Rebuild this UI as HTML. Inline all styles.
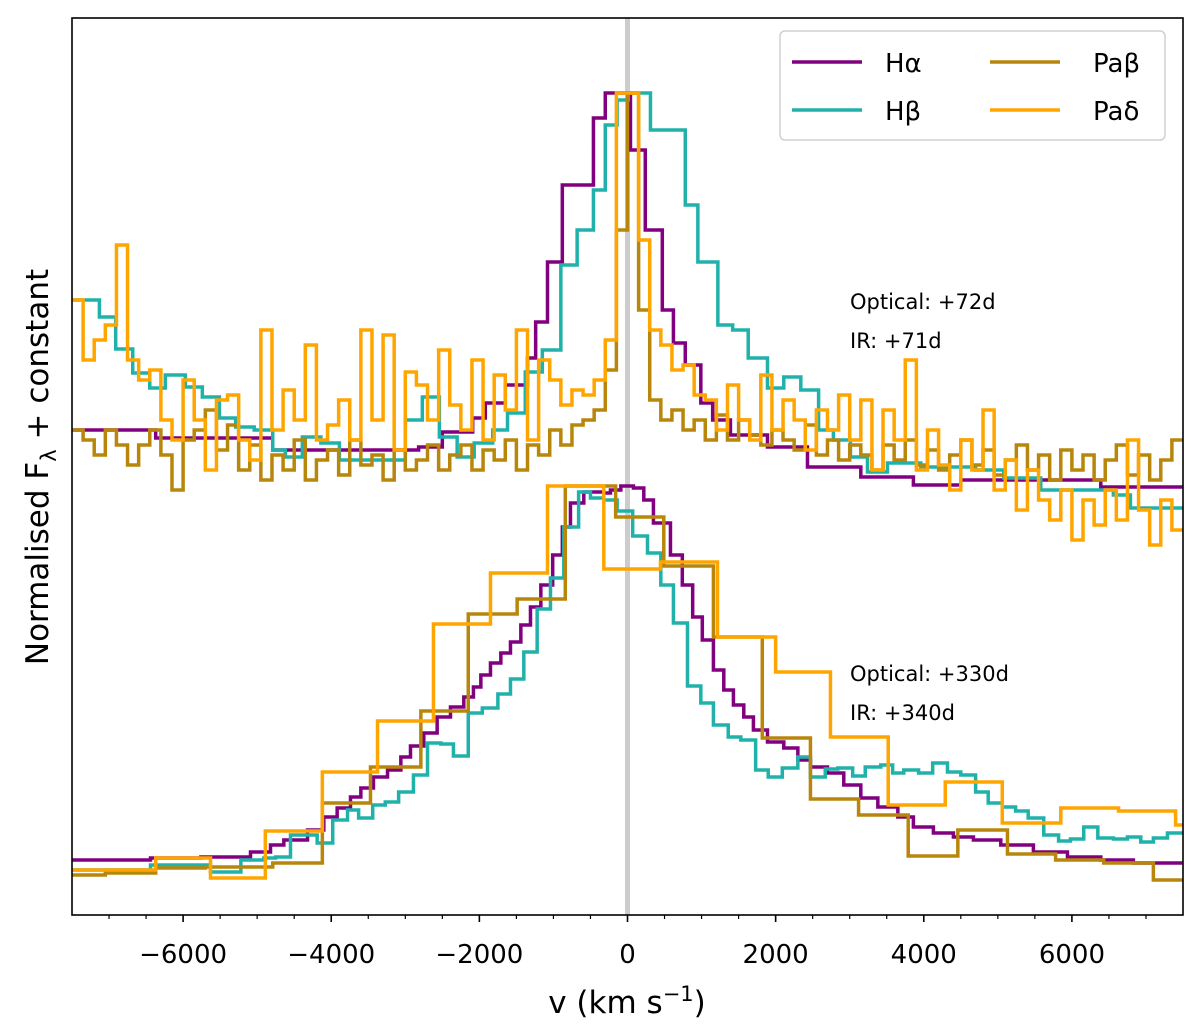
<!DOCTYPE html>
<html><head><meta charset="utf-8"><style>
html,body{margin:0;padding:0;background:#fff}
svg{display:block}
text{font-family:"DejaVu Sans","Liberation Sans",sans-serif}
</style></head><body>
<svg id="chart" width="1200" height="1033" xmlns="http://www.w3.org/2000/svg">
<g id="plot"></g>
</svg>
<script>
// ---- data ----
const xTicks = [-6000,-4000,-2000,0,2000,4000,6000];
const xTickLabels = ["\u22126000","\u22124000","\u22122000","0","2000","4000","6000"];
const binV = [-7500,-7350,-7200,-7050,-6900,-6750,-6600,-6450,-6300,-6150,-6000,-5850,-5700,-5550,-5400,-5250,-5100,-4950,-4800,-4650,-4500,-4350,-4200,-4050,-3900,-3750,-3600,-3450,-3300,-3150,-3000,-2850,-2700,-2550,-2400,-2250,-2100,-1950,-1800,-1650,-1500,-1350,-1200,-1050,-900,-750,-600,-450,-300,-150,0,150,300,450,600,750,900,1050,1200,1350,1500,1650,1800,1950,2100,2250,2400,2550,2700,2850,3000,3150,3300,3450,3600,3750,3900,4050,4200,4350,4500,4650,4800,4950,5100,5250,5400,5550,5700,5850,6000,6150,6300,6450,6600,6750,6900,7050,7200,7350,7500];
// early epoch (+72d / +71d)
const haTopV = [-7500,-6370,-4790,-2820,-2500,-2090,-1920,-1650,-1350,-1240,-1080,-880,-460,-300,40,240,470,620,780,990,1150,1390,1890,2430,3150,3860,4500,6390,7500];
const haTopF = [4.85,4.77,4.65,4.68,4.83,4.97,5.12,5.30,5.57,5.93,6.53,7.30,7.97,8.22,7.65,6.85,6.05,5.72,5.50,5.12,4.95,4.80,4.68,4.48,4.38,4.30,4.35,4.28];
const hbTopV = [-7500,-7130,-6910,-6680,-6450,-6240,-5970,-5740,-5510,-5290,-5040,-4790,-4620,-4390,-4140,-3890,-3000,-2770,-2540,-2300,-2070,-1820,-1620,-1380,-1150,-900,-680,-460,-300,-140,10,310,780,950,1220,1420,1630,1890,2110,2340,2580,2780,3010,3240,3510,3960,4700,5080,5580,6560,6790,7500];
const hbTopF = [6.15,5.98,5.66,5.42,5.27,5.40,5.28,5.18,4.97,4.88,4.85,4.65,4.58,4.78,4.72,4.55,4.95,5.18,4.78,4.58,4.72,4.85,5.02,5.43,5.65,6.50,6.85,7.25,7.90,8.15,8.22,7.85,7.10,6.53,5.90,5.85,5.57,5.27,5.38,5.25,4.85,4.75,4.58,4.43,4.52,4.48,4.45,4.37,4.25,4.20,4.07];
const pbTopF = [4.85,4.75,4.60,4.85,4.70,4.50,4.70,4.85,4.60,4.25,4.75,4.85,5.05,4.65,4.90,4.45,4.70,4.35,4.60,4.45,4.75,4.35,4.55,4.65,4.40,4.75,4.50,4.60,4.35,4.65,4.45,4.55,4.70,4.45,4.60,4.70,4.45,4.65,4.55,4.75,4.45,4.70,4.60,4.85,4.70,4.90,4.95,5.05,5.45,6.85,8.22,6.05,5.15,4.95,5.05,4.85,4.95,4.75,5.00,4.75,4.95,4.80,4.70,4.85,4.75,4.65,4.90,4.60,4.75,4.55,4.70,4.60,4.45,4.70,4.55,4.75,4.50,4.65,4.45,4.60,4.75,4.50,4.65,4.40,4.55,4.70,4.45,4.60,4.35,4.65,4.45,4.60,4.35,4.55,4.70,4.40,4.60,4.35,4.55,4.75];
const pdTopF = [6.15,5.55,5.75,5.90,6.70,5.55,5.35,5.45,4.95,4.75,5.35,4.95,4.45,5.15,5.20,4.75,4.55,5.85,4.85,5.25,4.95,5.70,4.75,4.90,5.15,4.75,5.85,4.95,5.80,4.65,5.43,5.30,4.95,5.65,5.10,4.85,5.55,4.75,5.40,5.05,5.85,4.75,5.55,5.35,5.10,5.25,5.20,5.35,5.75,8.22,8.22,6.75,5.85,5.70,5.45,5.50,5.20,5.15,4.85,5.30,4.95,4.75,5.40,4.85,5.15,4.95,4.65,5.05,4.85,5.20,4.75,5.15,4.45,5.05,4.75,5.55,4.45,4.85,4.50,4.25,4.75,4.45,5.05,4.25,4.55,4.05,4.45,4.15,3.95,4.25,3.75,4.15,3.90,4.25,3.95,4.75,4.05,3.70,4.15,3.85];
// late epoch (+330d / +340d)
const haBotV = [-7500,-6440,-5760,-5090,-4820,-4640,-4320,-4100,-3920,-3740,-3600,-3430,-3240,-3060,-2930,-2750,-2570,-2390,-2210,-2080,-1980,-1850,-1710,-1580,-1440,-1310,-1170,-1010,-880,-770,-590,-320,-230,-90,80,220,350,580,740,880,1010,1160,1300,1430,1570,1700,1890,2110,2300,2470,2700,2920,3150,3380,3650,3860,4130,4400,4670,5040,5480,5940,6390,6830,7500];
const haBotF = [0.55,0.57,0.58,0.63,0.70,0.75,0.85,0.98,1.07,1.18,1.27,1.38,1.45,1.58,1.69,1.82,1.98,2.08,2.18,2.28,2.40,2.52,2.62,2.73,2.90,3.08,3.30,3.60,3.88,4.12,4.23,4.22,4.25,4.29,4.27,4.15,3.92,3.60,3.30,2.98,2.75,2.45,2.25,2.10,1.98,1.85,1.73,1.67,1.55,1.48,1.42,1.30,1.17,1.08,0.98,0.88,0.82,0.78,0.75,0.70,0.63,0.58,0.55,0.52];
const hbBotV = [-7500,-6440,-5630,-5220,-4910,-4750,-4550,-4190,-3980,-3780,-3630,-3440,-3270,-3090,-2890,-2700,-2520,-2350,-2150,-1960,-1750,-1580,-1400,-1220,-1040,-860,-660,-500,-320,-140,70,270,450,620,810,990,1160,1360,1530,1730,1900,2090,2300,2470,2670,2840,3040,3210,3420,3580,3730,3930,4120,4320,4500,4700,4870,5060,5240,5410,5620,5820,5980,6160,6350,6560,6750,6930,7100,7290,7500];
const hbBotF = [0.45,0.50,0.43,0.55,0.57,0.58,0.80,0.72,0.95,1.05,0.97,1.10,1.13,1.23,1.40,1.72,1.71,1.59,2.02,2.07,2.21,2.36,2.63,3.06,3.37,3.88,4.23,4.17,4.15,4.04,3.79,3.62,3.30,2.92,2.29,2.12,1.90,1.78,1.75,1.45,1.38,1.47,1.58,1.38,1.46,1.47,1.39,1.48,1.50,1.42,1.45,1.42,1.52,1.43,1.40,1.23,1.12,1.08,1.04,0.97,0.80,0.74,0.76,0.88,0.77,0.76,0.78,0.73,0.77,0.82];
const pbBotV = [-7500,-7050,-6370,-5700,-4790,-4120,-3470,-2790,-2150,-1490,-840,-160,490,1160,1820,2470,3120,3790,4460,5130,5780,6430,7100,7500];
const pbBotF = [0.40,0.42,0.47,0.48,0.52,1.12,1.48,2.04,3.01,3.16,4.29,3.98,3.49,2.78,1.77,1.16,1.00,0.59,0.85,0.61,0.55,0.52,0.35];
const pdBotV = [-7500,-6370,-5630,-4890,-4120,-3375,-2620,-1850,-1080,-320,445,1215,2000,2740,3520,4290,5060,5850,6630,7400,7500];
const pdBotF = [0.45,0.57,0.37,0.84,1.43,1.94,2.91,3.42,4.29,3.46,3.53,2.78,2.43,1.78,1.10,1.33,0.92,1.07,1.04,0.90];

// ---- axes ----
const L=72,R=1183,T=18,B=915;
const xMin=-7500,xMax=7500,yMin=0,yMax=8.97;
const xS=v=>L+(v-xMin)/(xMax-xMin)*(R-L);
const yS=f=>B-(f-yMin)/(yMax-yMin)*(B-T);
const NS="http://www.w3.org/2000/svg";
const svg=document.getElementById('chart');
const plot=document.getElementById('plot');
function mk(tag,attrs,parent){const e=document.createElementNS(NS,tag);for(const k in attrs)e.setAttribute(k,attrs[k]);(parent||svg).appendChild(e);return e;}

const clip=mk('clipPath',{id:'clipP'});mk('rect',{x:L,y:T,width:R-L,height:B-T},clip);
plot.setAttribute('clip-path','url(#clipP)');

const zl=mk('line',{x1:xS(0),x2:xS(0),y1:T,y2:B,stroke:'#cccccc','stroke-width':5},plot);



function stepPath(edges,vals){
  let d='M'+xS(edges[0])+','+yS(vals[0]);
  for(let i=0;i<vals.length;i++){
    if(i>0)d+=' V'+yS(vals[i]);
    d+=' H'+xS(edges[i+1]);
  }
  return d;
}
function series(edges,vals,color,name){
  const p=mk('path',{d:stepPath(edges,vals),fill:'none',stroke:color,'stroke-width':3.5,'stroke-linejoin':'miter'},plot);
  
  
}
const cHa='#800080',cHb='#20b2aa',cPb='#b8860b',cPd='#ffa500';
series(haBotV,haBotF,cHa,'halpha-late');
series(hbBotV,hbBotF,cHb,'hbeta-late');
series(pbBotV,pbBotF,cPb,'pabeta-late');
series(pdBotV,pdBotF,cPd,'padelta-late');
series(haTopV,haTopF,cHa,'halpha-early');
series(hbTopV,hbTopF,cHb,'hbeta-early');
series(binV,pbTopF,cPb,'pabeta-early');
series(binV,pdTopF,cPd,'padelta-early');

// frame
const fr=mk('rect',{x:L,y:T,width:R-L,height:B-T,fill:'none',stroke:'#000','stroke-width':1.6});


// minor ticks
for(let v=-7000;v<=7000;v+=500){
  if(v%2000===0)continue;
  const t=mk('line',{x1:xS(v),x2:xS(v),y1:B,y2:B+4,stroke:'#000','stroke-width':1.2});
  
  
}
xTicks.forEach((v,i)=>{
  const t=mk('line',{x1:xS(v),x2:xS(v),y1:B,y2:B+7,stroke:'#000','stroke-width':1.6});
  
  
  const tx=mk('text',{x:xS(v),y:963,'font-size':26,'text-anchor':'middle',fill:'#000'});
  tx.textContent=xTickLabels[i];
  
  
});
</script>
<svg width="0" height="0"></svg>
<script>
(function(){
const NS="http://www.w3.org/2000/svg";const svg=document.getElementById('chart');
function add(html){svg.insertAdjacentHTML('beforeend',html);}
add('<text x="627" y="1013" font-size="31" text-anchor="middle">v (km s<tspan dy="-12" font-size="21">\u22121</tspan><tspan dy="12">)</tspan></text>');
add('<text transform="translate(48,467) rotate(-90)" font-size="31" text-anchor="middle">Normalised F<tspan dy="8" font-size="21">\u03bb</tspan><tspan dy="-8"> + constant</tspan></text>');
add('<text x="850" y="309" font-size="21">Optical: +72d</text>');
add('<text x="850" y="348" font-size="21">IR: +71d</text>');
add('<text x="850" y="681" font-size="21">Optical: +330d</text>');
add('<text x="850" y="720" font-size="21">IR: +340d</text>');
add('<g><rect x="780" y="31" width="385" height="109" rx="5" fill="#fff" fill-opacity="0.85" stroke="#d0d0d0" stroke-width="1.5"/>'+
'<g><line x1="792" x2="862" y1="62" y2="62" stroke="#800080" stroke-width="3.5"/><text x="885" y="72" font-size="26">H\u03b1</text></g>'+
'<g><line x1="792" x2="862" y1="110" y2="110" stroke="#20b2aa" stroke-width="3.5"/><text x="885" y="120" font-size="26">H\u03b2</text></g>'+
'<g><line x1="990" x2="1060" y1="62" y2="62" stroke="#b8860b" stroke-width="3.5"/><text x="1093" y="72" font-size="26">Pa\u03b2</text></g>'+
'<g><line x1="990" x2="1060" y1="110" y2="110" stroke="#ffa500" stroke-width="3.5"/><text x="1093" y="120" font-size="26">Pa\u03b4</text></g></g>');
})();
</script>
</body></html>
